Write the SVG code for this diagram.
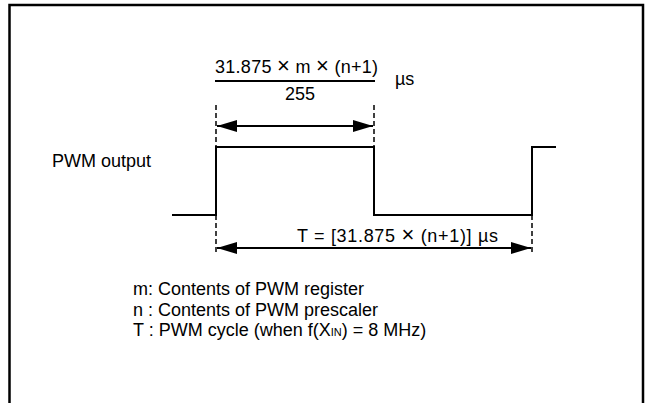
<svg xmlns="http://www.w3.org/2000/svg" width="647" height="403" viewBox="0 0 647 403">
<defs>
<style>
.t{font-family:"Liberation Sans",Arial,sans-serif;font-size:18px;fill:#000}
.w{fill:none;stroke:#000;stroke-width:2}
.d{fill:none;stroke:#000;stroke-width:1.5;stroke-dasharray:5 3}
.a{fill:none;stroke:#000;stroke-width:2}
.x{font-size:22px}
.s{font-size:11px}
</style>
<marker id="ah" viewBox="0 0 20 12" refX="20" refY="6" markerWidth="20" markerHeight="12" markerUnits="userSpaceOnUse" orient="auto-start-reverse">
<path d="M0,0 L20,6 L0,12 Z" fill="#000"/>
</marker>
</defs>
<rect width="647" height="403" fill="#fff"/>
<path d="M9.5,403 V5 H643 V403" fill="none" stroke="#000" stroke-width="2.5"/>
<g id="waveform">
<path class="w" d="M172,215 H216 V147 H374 V215 H532 V147 H556"/>
<text class="t" x="52" y="167">PWM output</text>
</g>
<g id="pulse-width-label">
<text class="t" x="215" y="73" textLength="163" lengthAdjust="spacing">31.875 <tspan class="x">×</tspan> m <tspan class="x">×</tspan> (n+1)</text>
<line x1="215" y1="81" x2="375" y2="81" stroke="#000" stroke-width="2"/>
<text class="t" x="300" y="100" text-anchor="middle">255</text>
<text class="t" x="395" y="85">µs</text>
</g>
<g id="connectors">
<line class="d" x1="216" y1="105" x2="216" y2="147"/>
<line class="d" x1="374" y1="105" x2="374" y2="147"/>
<line class="d" x1="216" y1="215" x2="216" y2="253"/>
<line class="d" x1="532" y1="215" x2="532" y2="253"/>
<line class="a" x1="217" y1="126" x2="373" y2="126" marker-start="url(#ah)" marker-end="url(#ah)"/>
<line class="a" x1="217" y1="248" x2="531" y2="248" marker-start="url(#ah)" marker-end="url(#ah)"/>
</g>
<g id="period-label">
<text class="t" x="297" y="242" textLength="201" lengthAdjust="spacing">T = [31.875  <tspan class="x">×</tspan> (n+1)] µs</text>
</g>
<g id="legend">
<text class="t" x="133" y="295">m: Contents of PWM register</text>
<text class="t" x="133" y="315.5">n : Contents of PWM prescaler</text>
<text class="t" x="133" y="336">T : PWM cycle (when f(X<tspan class="s">IN</tspan>) = 8 MHz)</text>
</g>
</svg>
